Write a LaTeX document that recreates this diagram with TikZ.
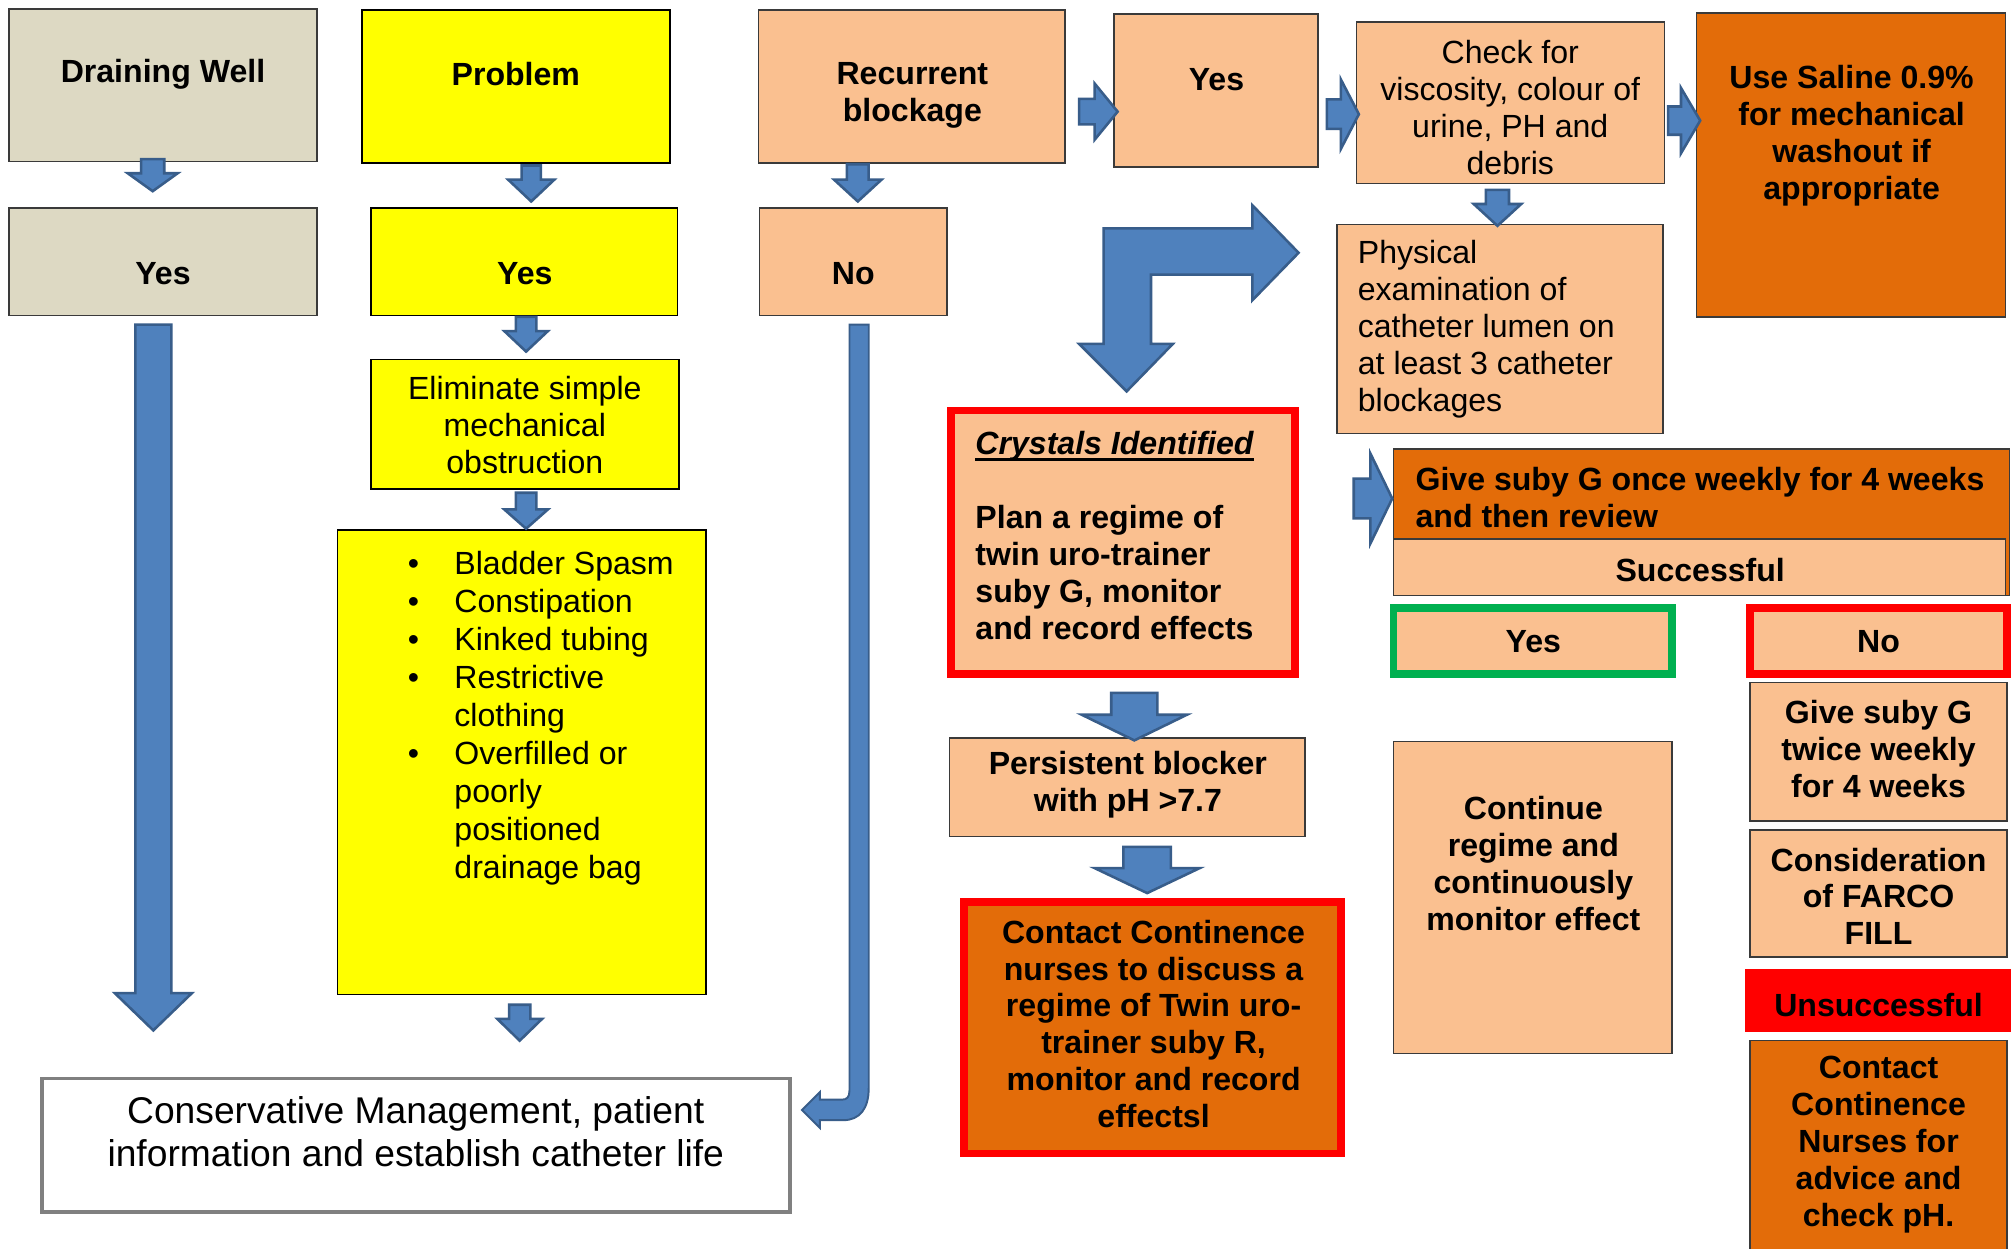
\documentclass[tikz,border=0pt]{standalone}
\usepackage{fontspec}
\setmainfont{Liberation Sans}
\definecolor{tanbg}{HTML}{DDD9C3}
\definecolor{yel}{HTML}{FFFF00}
\definecolor{lor}{HTML}{FAC090}
\definecolor{dor}{HTML}{E36C09}
\definecolor{ablue}{HTML}{4F81BD}
\definecolor{aedge}{HTML}{385D8A}
\definecolor{grn}{HTML}{00B050}
\definecolor{bline}{HTML}{3A3A3A}
\definecolor{cmgray}{HTML}{808080}
\newcommand\fsN{\fontsize{25}{28.75}\selectfont}
\newcommand\fsL{\fontsize{29}{33.5}\selectfont}
\newcommand\fsB{\fontsize{25}{29.6}\selectfont}
\newcommand\thickul[1]{\setbox0\hbox{#1}\rlap{\rule[-4.5pt]{\wd0}{2pt}}\box0}
\newcommand\bx[6]{\node[box,#6,minimum width={(#4)-(#2)}, minimum height={(#5)-(#3)}] (#1) at ({((#2)+(#4))/2},{((#3)+(#5))/2}) {};}
\newcommand\arrD[6]{\draw[blk] ({#1-#5},#2) -- ({#1+#5},#2) -- ({#1+#5},#3) -- ({#1+#6},#3) -- (#1,#4) -- ({#1-#6},#3) -- ({#1-#5},#3) -- cycle;}
\newcommand\arrR[6]{\draw[blk] (#2,{#1-#5}) -- (#3,{#1-#5}) -- (#3,{#1-#6}) -- (#4,#1) -- (#3,{#1+#6}) -- (#3,{#1+#5}) -- (#2,{#1+#5}) -- cycle;}
\tikzset{
  box/.style={draw=bline, line width=1.2pt, inner sep=0pt, outer sep=0pt},
  txt/.style={font=\fsN, align=center, inner sep=0pt},
  btxt/.style={font=\fsN\bfseries, align=center, inner sep=0pt},
  blk/.style={fill=ablue, draw=aedge, line width=2pt, line join=miter},
}
\begin{document}
\begin{tikzpicture}[x=1pt,y=-1pt]
\useasboundingbox (0,0) rectangle (1568,973);
\fill[white] (0,0) rectangle (1568,973);
% boxes
\bx{dw}{7}{7}{247}{126}{fill=tanbg}
\bx{dwy}{7}{162}{247}{246}{fill=tanbg}
\bx{pr}{282}{8}{522}{127}{fill=yel, draw=black}
\bx{pry}{289}{162}{528}{246}{fill=yel, draw=black}
\bx{el}{289}{280}{529}{381}{fill=yel, draw=black}
\bx{bl}{263}{413}{550}{775}{fill=yel, draw=black}
\bx{cm}{32.5}{840.5}{615.5}{944.5}{fill=white, draw=cmgray, line width=3pt}
\bx{rb}{591}{8}{830}{127}{fill=lor}
\bx{no}{592}{162}{738}{246}{fill=lor}
\bx{ry}{868}{11}{1027}{130}{fill=lor}
\bx{ck}{1057}{17}{1297}{143}{fill=lor}
\bx{sa}{1322}{10}{1563}{247}{fill=dor}
\bx{ph}{1042}{175}{1296}{338}{fill=lor}
\bx{cr}{741}{320}{1009}{525}{fill=lor, draw=red, line width=6pt}
\bx{pe}{740}{575}{1017}{652}{fill=lor}
\bx{cc}{751}{703}{1045}{899}{fill=dor, draw=red, line width=6pt}
\bx{gw}{1086}{350}{1566}{464}{fill=dor}
\bx{su}{1086}{420}{1563}{464}{fill=lor}
\bx{ys}{1086}{474}{1303}{525}{fill=lor, draw=grn, line width=6pt}
\bx{nn}{1364}{474}{1564}{525}{fill=lor, draw=red, line width=6pt}
\bx{tw}{1364}{532}{1564}{640}{fill=lor}
\bx{co}{1086}{578}{1303}{821}{fill=lor}
\bx{fa}{1364}{647}{1564}{746}{fill=lor}
\bx{un}{1360}{755}{1567}{804}{fill=red, draw=none}
\bx{cn}{1364}{811}{1564}{985}{fill=dor}
% texts
\node[btxt] (tDW) at (127,58) {Draining Well};
\node[btxt] (tY1) at (127,213) {Yes};
\node[btxt] (tPr) at (402,58) {Problem};
\node[btxt] (tY2) at (409,213) {Yes};
\node[txt] (tEl) at (409,331.5) {Eliminate simple\\mechanical\\obstruction};
\node[inner sep=0pt, anchor=west, font=\fsB] (tBl) at (317.6,560.3) {\begin{tabular}{@{}l@{\hspace{27.6pt}}l@{}}
•&Bladder Spasm\\
•&Constipation\\
•&Kinked tubing\\
•&Restrictive\\
&clothing\\
•&Overfilled or\\
&poorly\\
&positioned\\
&drainage bag
\end{tabular}};
\node[txt, font=\fsL] (tCM) at (324,882) {Conservative Management, patient\\information and establish catheter life};
\node[btxt] (tRB) at (711,74) {Recurrent\\blockage};
\node[btxt] (tNo) at (665,213) {No};
\node[btxt] (tY3) at (948,62) {Yes};
\node[txt] (tCh) at (1177,84) {Check for\\viscosity, colour of\\urine, PH and\\debris};
\node[btxt] (tSa) at (1443,105.5) {Use Saline 0.9\%\\for mechanical\\washout if\\appropriate};
\node[txt, align=left, anchor=west] (tPh) at (1058,256.5) {Physical\\examination of\\catheter lumen on\\at least 3 catheter\\blockages};
\node[btxt, align=left, anchor=west] (tCr) at (760,417.5) {\thickul{\textit{Crystals Identified}}\\[28.75pt]Plan a regime of\\twin uro-trainer\\suby G, monitor\\and record effects};
\node[btxt] (tPe) at (879,611.5) {Persistent blocker\\with pH >7.7};
\node[btxt] (tCC) at (899,798) {Contact Continence\\nurses to discuss a\\regime of Twin uro-\\trainer suby R,\\monitor and record\\effectsl};
\node[btxt, align=left, anchor=west] (tGW) at (1103,387.5) {Give suby G once weekly for 4 weeks\\and then review};
\node[btxt] (tSu) at (1325,444) {Successful};
\node[btxt] (tY4) at (1195,500) {Yes};
\node[btxt] (tN2) at (1464,500) {No};
\node[btxt] (tTw) at (1464,584) {Give suby G\\twice weekly\\for 4 weeks};
\node[btxt] (tCo) at (1195,673) {Continue\\regime and\\continuously\\monitor effect};
\node[btxt] (tFa) at (1464,698.5) {Consideration\\of FARCO\\FILL};
\node[btxt] (tUn) at (1464,783) {Unsuccessful};
\node[btxt] (tCN) at (1464,892) {Contact\\Continence\\Nurses for\\advice and\\check pH.};
% block arrows
\arrD{119}{124}{135}{149}{9}{19.5}
\arrD{414}{129}{140}{157}{7.5}{18}
\arrD{410}{247}{258}{274}{8}{17}
\arrD{410}{384}{397}{412}{8}{17}
\arrD{405}{783}{794}{811}{8.3}{17.5}
\arrD{668.5}{128}{140}{157}{8.5}{18.5}
\arrD{119.5}{253}{774}{803}{14}{30}
\arrD{1167}{148}{159}{176}{9}{18.5}
\arrD{884}{540}{557}{577}{18}{41}
\arrD{894}{660}{676.5}{696}{18.5}{41}
\arrR{87}{841}{853}{871}{10}{22}
\arrR{89}{1034}{1045}{1059}{11.5}{27}
\arrR{94}{1300}{1310}{1325}{11}{25.5}
\arrR{388.5}{1055}{1068}{1085}{15.5}{35}
% bent arrow
\draw[blk] (860,178) -- (976,178) -- (976,160) -- (1012,197) -- (976,234) -- (976,214) -- (897,214) -- (897,268) -- (914,268) -- (878,305) -- (841,268) -- (860,268) -- cycle;
% thin arrow from No to conservative management
\draw[blk, line width=1.5pt] (662,253) -- (677,253) -- (677,848) .. controls (677,864) and (670,873) .. (657,873) -- (639,873) -- (639,879) -- (625,865) -- (639,851) -- (639,857) -- (656,857) .. controls (660,857) and (662,855) .. (662,850) -- cycle;
\end{tikzpicture}
\end{document}
